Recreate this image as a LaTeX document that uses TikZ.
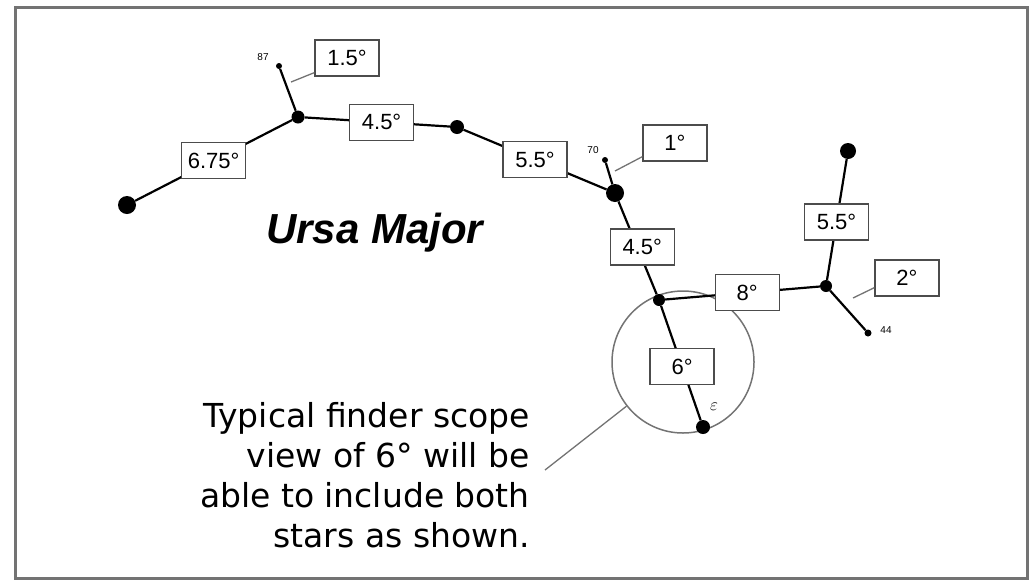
\documentclass[tikz,border=0pt]{standalone}
\usepackage{fontspec}
\setmainfont{Liberation Sans}
\newfontfamily\blockfont{DejaVu Sans}
\usetikzlibrary{calc}

\begin{document}
\begin{tikzpicture}[x=1pt, y=-1pt,
  dot/.style={circle, fill=black, inner sep=0pt, minimum size=#1},
  dot/.default=12pt,
  deg/.style={draw=black!70, line width=1.3pt, fill=white, minimum width=64pt, minimum height=36pt, inner sep=0pt, font=\fontsize{22}{22}\selectfont},
  link/.style={line width=2.2pt},
  leader/.style={draw=black!55, line width=1.3pt},
  starno/.style={font=\fontsize{10}{10}\selectfont, inner sep=0pt}]
  \useasboundingbox (0,0) rectangle (1032,584);
  \draw[black!55, line width=3pt] (15,7) rectangle (1027,578);
  % finder field
  \node[draw=black!55, line width=1.5pt, circle, minimum size=142pt, inner sep=0pt] (field) at (683,362) {};
  % stars
  \node[dot=18pt] (s1) at (127,205) {};
  \node[dot=13pt] (s2) at (298,117) {};
  \node[dot=6pt] (s87) at (279,66) {};
  \node[dot=14pt] (s3) at (457,127) {};
  \node[dot=6pt] (s70) at (605,160) {};
  \node[dot=18pt] (s4) at (615,193) {};
  \node[dot=12pt] (s5) at (659,300) {};
  \node[dot=14pt] (s6) at (703,427) {};
  \node[dot=12pt] (s7) at (826,286) {};
  \node[dot=16pt] (s8) at (848,151) {};
  \node[dot=7pt] (s44) at (868,333) {};
  % hops
  \draw[link] (s1) -- node[deg, pos=0.5] (b675) {6.75°} (s2);
  \draw[link] (s2) -- (s87);
  \draw[link] (s2) -- node[deg, pos=0.53] (b45a) {4.5°} (s3);
  \draw[link] (s3) -- node[deg, pos=0.5] (b55a) {5.5°} (s4);
  \draw[link] (s4) -- (s70);
  \draw[link] (s4) -- node[deg, pos=0.49, xshift=5pt] (b45b) {4.5°} (s5);
  \draw[link] (s5) -- node[deg, pos=0.53] (b8) {8°} (s7);
  \draw[link] (s7) -- node[deg, pos=0.48] (b55b) {5.5°} (s8);
  \draw[link] (s7) -- (s44);
  \draw[link] (s5) -- node[deg, pos=0.53] (b6) {6°} (s6);
  % side labels
  \node[deg] (b15) at (347,58) {1.5°};
  \node[deg] (b1) at (675,143) {1°};
  \node[deg] (b2) at (907,278) {2°};
  \coordinate (k87) at (291,82);
  \coordinate (k70) at (615,171);
  \coordinate (k44) at (853,298);
  \draw[leader] (k87) -- ($(b15.south west)+(0,-4)$);
  \draw[leader] (k70) -- ($(b1.south west)+(0,-5)$);
  \draw[leader] (k44) -- ($(b2.south west)+(0,-9)$);
  \node[starno] (n87) at (263,57) {87};
  \node[starno] (n70) at (593,150) {70};
  \node[starno] (n44) at (886,330) {44};
  \node[font=\fontsize{17}{17}\selectfont, inner sep=0pt] (neps) at (714,407) {$\varepsilon$};
  % texts
  \node[font=\fontsize{42}{42}\selectfont\bfseries\itshape, anchor=base west, inner sep=0pt] (title) at (266,243) {Ursa Major};
  \coordinate (kt) at (545,470);
  \draw[leader] (field.218) -- (kt);
  \node[font=\blockfont\fontsize{33}{40}\selectfont, align=right, anchor=base east, inner sep=0pt] (note) at (530,547) {Typical finder scope\\view of 6° will be\\able to include both\\stars as shown.};
\end{tikzpicture}
\end{document}
